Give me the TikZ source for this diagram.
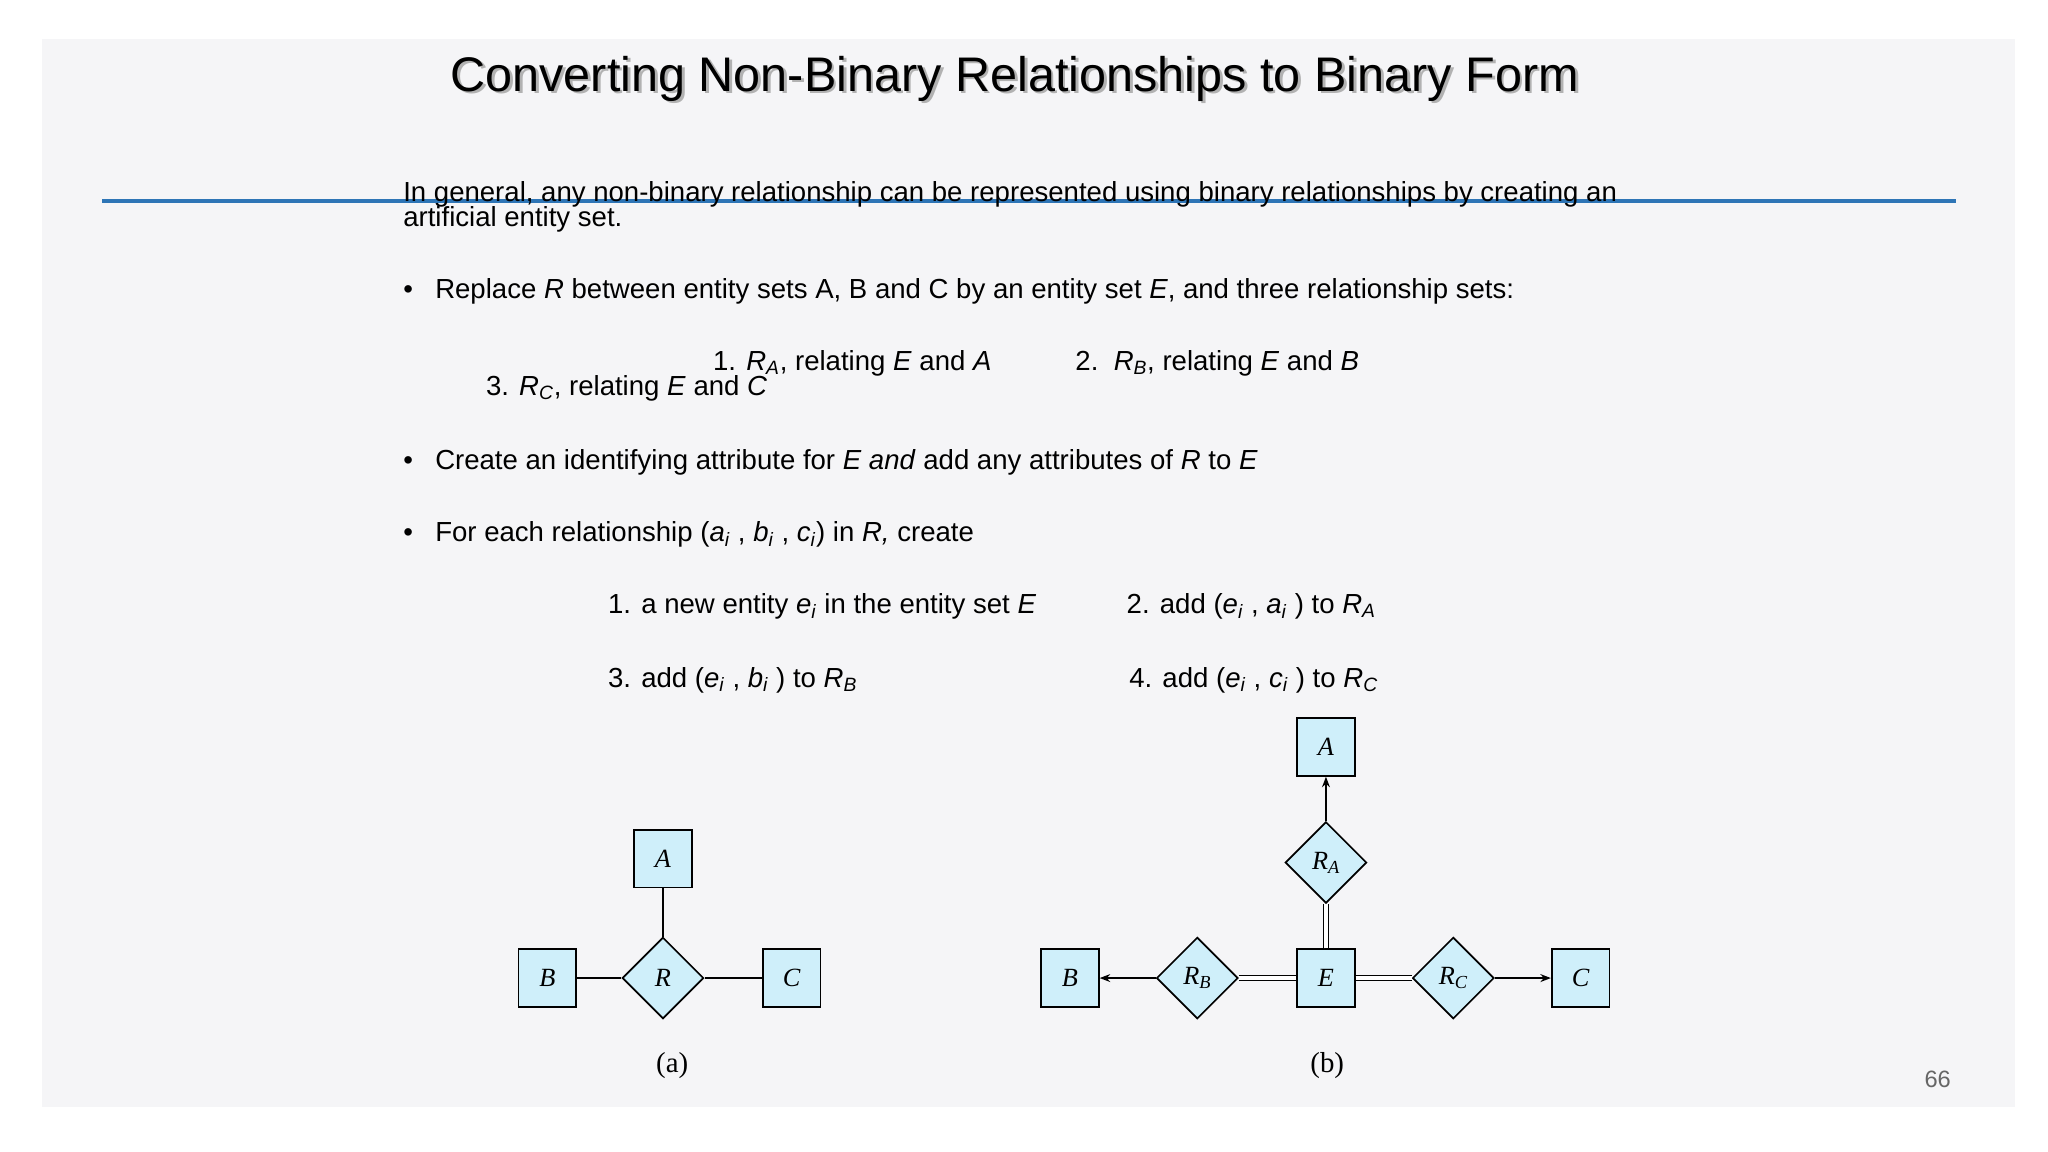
\documentclass[tikz,border=0pt]{standalone}
\usepackage{fontspec}
\setmainfont{Liberation Sans}
\newfontfamily\tms{Liberation Serif}
\usetikzlibrary{arrows.meta,shapes.geometric}
\newcommand{\sbi}[2]{\textit{#1}\textsubscript{\textit{#2}}}
\begin{document}
\begin{tikzpicture}[x=1pt,y=-1pt,
 txt/.style={anchor=west,inner sep=0pt,font=\fontsize{21}{21}\selectfont},
 ent/.style={draw,line width=1.3pt,fill=erblue,minimum size=44pt,inner sep=0pt,font=\tms\itshape\fontsize{20}{20}\selectfont},
 rel/.style={draw,diamond,line width=1.3pt,fill=erblue,minimum size=62pt,inner sep=0pt,font=\tms\itshape\fontsize{20}{20}\selectfont},
 con/.style={line width=1.3pt},
 arr/.style={line width=1.3pt,-{Stealth[length=8pt,width=6pt]}},
 dbl/.style={double,double distance=3pt,line width=1.1pt}]
\definecolor{erblue}{HTML}{CFEFFA}
\definecolor{slide}{HTML}{F5F5F7}
\definecolor{rule}{HTML}{2E75B6}
\useasboundingbox (0,0) rectangle (1560,877.5);
\fill[white] (0,0) rectangle (1560,877.5);
\fill[slide] (32,30) rectangle (1535,843);
\node[inner sep=0pt,text=black!30] at (775,62) {\fontsize{37}{37}\selectfont Converting Non-Binary Relationships to Binary Form};
\node (title) [inner sep=0pt] at (773,60) {\fontsize{37}{37}\selectfont Converting Non-Binary Relationships to Binary Form};
\draw[rule,line width=3pt] (78,153) -- (1490,153);
\node (l1) [txt] at (307,148) {In general, any non-binary relationship can be represented using binary relationships by creating an};
\node (l2) [txt] at (307,167) {artificial entity set.};
\node (b1) [txt] at (307,222) {•\hspace{17pt}Replace \textit{R} between entity sets A, B and C by an entity set \textit{E}, and three relationship sets:};
\node (s1) [txt] at (543,277) {1. \sbi{R}{A}, relating \textit{E} and \textit{A}};
\node (s2) [txt] at (819,277) {2.\ \ \sbi{R}{B}, relating \textit{E} and \textit{B}};
\node (s3) [txt] at (370,296) {3. \sbi{R}{C}, relating \textit{E} and \textit{C}};
\node (b2) [txt] at (307,352) {•\hspace{17pt}Create an identifying attribute for \textit{E and} add any attributes of \textit{R} to \textit{E}};
\node (b3) [txt] at (307,407) {•\hspace{17pt}For each relationship (\sbi{a}{i} , \sbi{b}{i} , \sbi{c}{i}) in \textit{R,} create};
\node (t1) [txt] at (463,462) {1. a new entity \sbi{e}{i} in the entity set \textit{E}};
\node (t2) [txt] at (858,462) {2. add (\sbi{e}{i} , \sbi{a}{i} ) to \sbi{R}{A}};
\node (t3) [txt] at (463,518) {3. add (\sbi{e}{i} , \sbi{b}{i} ) to \sbi{R}{B}};
\node (t4) [txt] at (860,518) {4. add (\sbi{e}{i} , \sbi{c}{i} ) to \sbi{R}{C}};
% (a)
\node (aA) [ent] at (505,654) {A};
\node (aB) [ent] at (417,745) {B};
\node (aR) [rel] at (505,745) {R};
\node (aC) [ent] at (603,745) {C};
\draw[con] (aA) -- (aR);
\draw[con] (aB) -- (aR);
\draw[con] (aR) -- (aC);
\node (la) at (512,812) {\tms\fontsize{22}{22}\selectfont (a)};
% (b)
\node (bA) [ent] at (1010,569) {A};
\node (bRA) [rel] at (1010,657) {R\textsubscript{A}};
\node (bE) [ent] at (1010,745) {E};
\node (bRB) [rel] at (912,745) {R\textsubscript{B}};
\node (bB) [ent] at (815,745) {B};
\node (bRC) [rel] at (1107,745) {R\textsubscript{C}};
\node (bC) [ent] at (1204,745) {C};
\draw[arr] (bRA) -- (bA);
\draw[arr] (bRB) -- (bB);
\draw[arr] (bRC) -- (bC);
\draw[dbl] (bE) -- (bRA);
\draw[dbl] (bE) -- (bRB);
\draw[dbl] (bE) -- (bRC);
\node (lb) at (1011,812) {\tms\fontsize{22}{22}\selectfont (b)};
\node (pg) at (1476,822) {\fontsize{18}{18}\selectfont\color{black!60}66};
\end{tikzpicture}
\end{document}
